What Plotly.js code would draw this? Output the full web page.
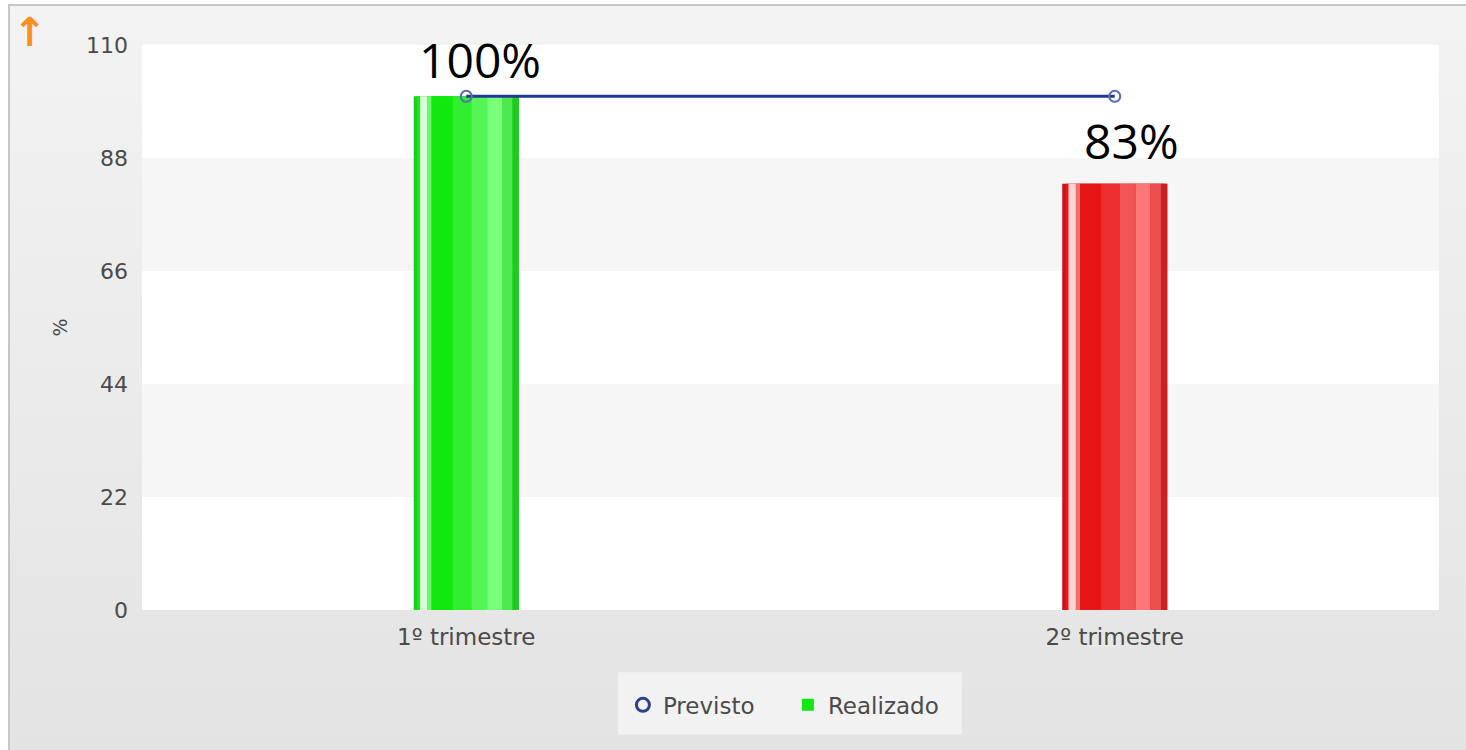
<!DOCTYPE html>
<html><head><meta charset="utf-8">
<script src="https://cdn.plot.ly/plotly-3.0.1.min.js"></script>
<style>
html,body{margin:0;padding:0;background:#fff;overflow:hidden;width:1466px;height:750px;}
#frame{position:absolute;left:8px;top:4px;width:1470px;height:760px;border-top:2px solid #c6c6c6;border-left:2px solid #c6c6c6;background:linear-gradient(#f3f3f3,#e3e3e3);}
#chart{position:absolute;left:0;top:0;width:1470px;height:750px;}
</style></head><body>
<div id="frame"><div id="chart"></div></div>
<script>
const categories = ["1º trimestre", "2º trimestre"];
const previsto = [100, 100];
const realizado = [100, 83];
const labels = ["100%", "83%"];
const tickVals = [0, 22, 44, 66, 88, 110];

// strips simulate the cylinder shading: [offsetFrac, widthFrac, colors]
const BW = 0.162;
const strips = [
  [0.00, 1.00, ["#1ad01a", "#cc1515"]],
  [0.03, 0.94, ["#18e818", "#e41818"]],
  [0.06, 0.07, ["#d8ffd8", "#ffd4d4"]],
  [0.13, 0.04, ["#70f570", "#f07070"]],
  [0.17, 0.20, ["#10e810", "#e61616"]],
  [0.37, 0.18, ["#30ee30", "#ec3030"]],
  [0.55, 0.15, ["#55f555", "#f25555"]],
  [0.70, 0.14, ["#7aff7a", "#ff7777"]],
  [0.84, 0.10, ["#50e850", "#ea5050"]],
  [0.94, 0.06, ["#22c822", "#c82222"]]
];

const traces = [];
strips.forEach((s) => {
  traces.push({
    type: "bar", x: [0, 1], y: realizado,
    width: [BW * s[1], BW * s[1]],
    offset: [-BW / 2 + BW * s[0], -BW / 2 + BW * s[0]],
    marker: {color: s[2], line: {width: 0}},
    showlegend: false, hoverinfo: "skip"
  });
});
traces.push({
  type: "scatter", mode: "lines+markers", name: "Previsto",
  x: [0, 1], y: previsto, showlegend: false,
  line: {color: "#1f3a93", width: 3},
  marker: {symbol: "circle-open", size: 11, color: "#5a6db5", line: {width: 2, color: "#5a6db5"}}
});
// legend-only entries
traces.push({
  type: "scatter", mode: "markers", name: "Previsto", x: [0], y: [null],
  marker: {symbol: "circle-open", size: 13, color: "#2b3f96", line: {width: 3, color: "#2b3f96"}},
  showlegend: true, hoverinfo: "skip"
});
traces.push({
  type: "bar", name: "Realizado", x: [0], y: [null],
  marker: {color: "#14e614"}, showlegend: true, hoverinfo: "skip"
});

const shapes = [];
for (let i = 0; i + 1 < tickVals.length; i++) {
  if (i % 2 === 1) {
    shapes.push({type: "rect", xref: "paper", yref: "y", x0: 0, x1: 1,
      y0: tickVals[i], y1: tickVals[i + 1], fillcolor: "#f6f6f6", line: {width: 0}, layer: "below"});
  }
}
// legend box
shapes.push({type: "rect", xref: "paper", yref: "paper", x0: 0.367, x1: 0.632, y0: -0.221, y1: -0.110,
  fillcolor: "#f2f2f2", line: {width: 0}, layer: "below"});

const annotations = realizado.map((v, i) => ({
  x: i, y: v, text: labels[i], showarrow: false,
  xanchor: "center", yanchor: "bottom", xshift: i === 0 ? 14 : 17, yshift: i === 0 ? 2 : 9,
  font: {family: "Open Sans, sans-serif", size: 48, color: "#000"}
}));
annotations.push({
  xref: "paper", yref: "paper", x: -0.086, y: 1.023, text: "<b>↑</b>", showarrow: false,
  xanchor: "center", yanchor: "middle",
  font: {family: "DejaVu Sans", size: 40, color: "#f7901e"}
});

const layout = {
  width: 1470, height: 750,
  margin: {l: 132, r: 41, t: 39, b: 146},
  paper_bgcolor: "rgba(0,0,0,0)", plot_bgcolor: "#ffffff",
  barmode: "overlay",
  font: {family: "DejaVu Sans, Verdana, sans-serif", color: "#4a4a4a"},
  xaxis: {range: [-0.5, 1.5], tickvals: [0, 1], ticktext: categories,
    showgrid: false, zeroline: false, showline: false, ticks: "", ticklabelstandoff: 11,
    tickfont: {size: 23, color: "#4a4a4a"}, fixedrange: true},
  yaxis: {range: [0, 110], tickvals: tickVals, showgrid: false, zeroline: false, showline: false,
    ticks: "", ticklabelstandoff: 13, tickfont: {size: 22, color: "#4a4a4a"},
    title: {text: "%", font: {size: 19, color: "#4a4a4a"}, standoff: 13}},
  legend: {orientation: "h", x: 0.498, xanchor: "center", y: -0.168, yanchor: "middle",
    bgcolor: "rgba(0,0,0,0)", font: {size: 23, color: "#4a4a4a"}, entrywidth: 120},
  shapes: shapes, annotations: annotations
};
Plotly.newPlot("chart", traces, layout, {displayModeBar: false, staticPlot: true});
</script></body></html>
